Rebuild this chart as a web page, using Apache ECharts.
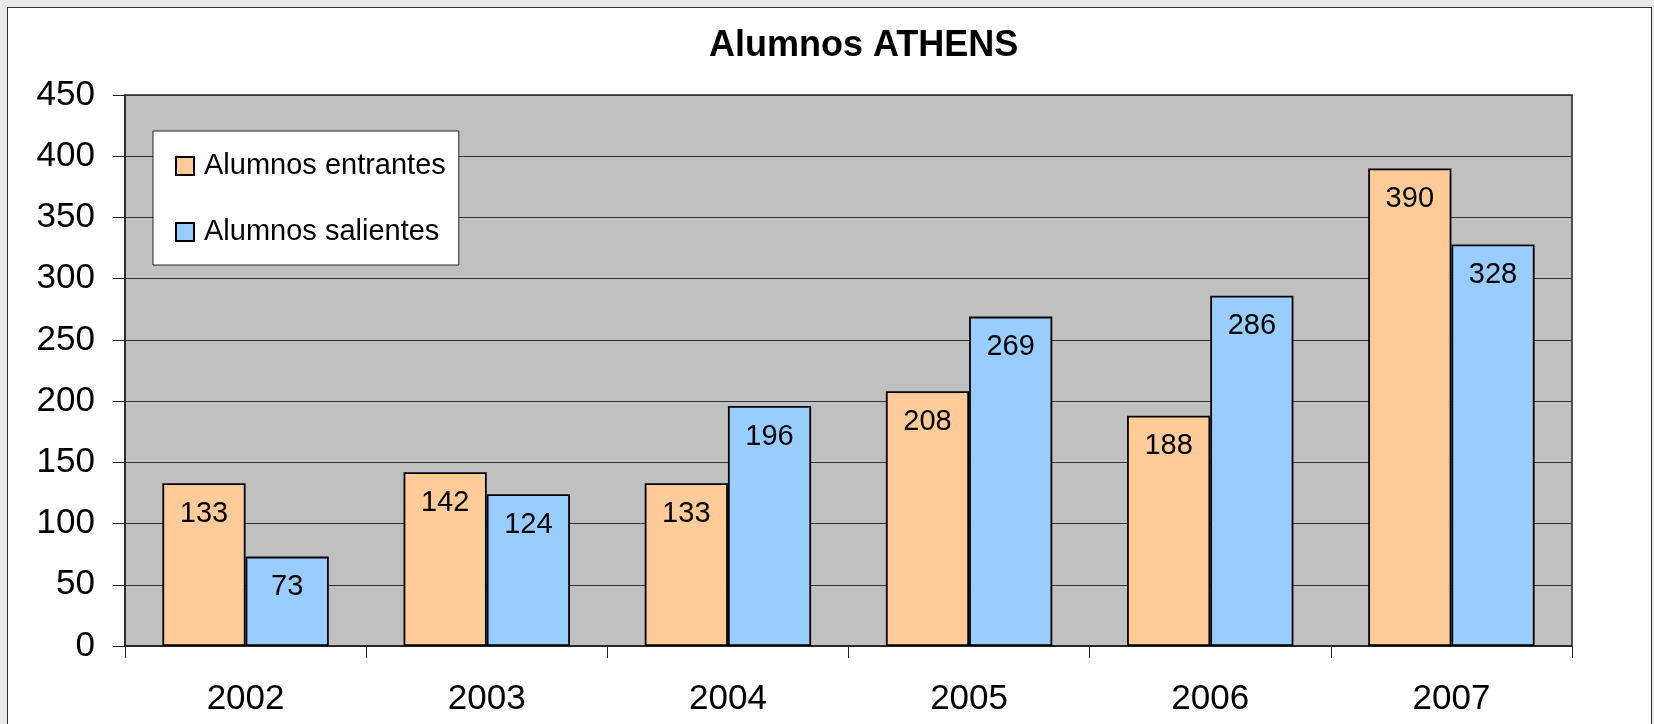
<!DOCTYPE html>
<html>
<head>
<meta charset="utf-8">
<script src="https://cdn.jsdelivr.net/npm/echarts@6/dist/echarts.min.js"></script>
<style>
  html, body { margin: 0; padding: 0; background: #e9e9e9; }
  #frame { position: absolute; left: 7px; top: 7px; width: 1645px; height: 740px; background: #fff; border: 1px solid #333; box-sizing: border-box; }
  #chart { position: absolute; left: 0; top: 0; width: 1654px; height: 724px; }
</style>
</head>
<body>
<div id="frame"></div>
<div id="chart"></div>
<script>
const years = ["2002", "2003", "2004", "2005", "2006", "2007"];
const entrantes = [133, 142, 133, 208, 188, 390];
const salientes = [73, 124, 196, 269, 286, 328];
const seriesNames = ["Alumnos entrantes", "Alumnos salientes"];
const titleText = "Alumnos ATHENS";

const font = "Liberation Sans, Arial, sans-serif";
const chart = echarts.init(document.getElementById("chart"));

const barLabel = {
  show: true,
  position: "insideTop",
  distance: 16,
  color: "#000",
  fontFamily: font,
  fontSize: 29
};

const option = {
  animation: false,
  title: {
    text: titleText,
    left: 709,
    top: 28,
    padding: 0,
    textStyle: { fontFamily: font, fontSize: 36, fontWeight: "bold", color: "#000" }
  },
  legend: {
    orient: "vertical",
    left: 153,
    top: 131,
    padding: [20, 13, 18, 22],
    backgroundColor: "#fff",
    borderColor: "#222",
    borderWidth: 1,
    borderRadius: 0,
    itemWidth: 28,
    itemHeight: 18,
    itemGap: 36,
    icon: "path://M0,0H10V10H0Z",
    data: seriesNames,
    textStyle: { fontFamily: font, fontSize: 29, color: "#000", lineHeight: 30 }
  },
  grid: {
    left: 125,
    top: 95,
    right: 82,
    bottom: 78,
    show: true,
    backgroundColor: "#c0c0c0",
    borderColor: "#222",
    borderWidth: 1.5
  },
  xAxis: {
    type: "category",
    data: years,
    axisLine: { show: true, lineStyle: { color: "#222", width: 1.5 } },
    axisTick: { show: true, length: 12, inside: false, lineStyle: { color: "#222", width: 1 } },
    axisLabel: { margin: 36, color: "#000", fontFamily: font, fontSize: 35 }
  },
  yAxis: {
    type: "value",
    min: 0,
    max: 450,
    interval: 50,
    axisLine: { show: true, lineStyle: { color: "#222", width: 1.5 } },
    axisTick: { show: true, length: 12, lineStyle: { color: "#222", width: 1 } },
    splitLine: { show: true, lineStyle: { color: "#333", width: 1.2 } },
    axisLabel: { margin: 30, color: "#000", fontFamily: font, fontSize: 35 }
  },
  series: [
    {
      name: seriesNames[0],
      type: "bar",
      data: entrantes,
      barGap: "0%",
      barCategoryGap: "31%",
      itemStyle: { color: "#ffcc99", borderColor: "#000", borderWidth: 1.8 },
      label: barLabel
    },
    {
      name: seriesNames[1],
      type: "bar",
      data: salientes,
      itemStyle: { color: "#99ccff", borderColor: "#000", borderWidth: 1.8 },
      label: barLabel
    }
  ]
};

chart.setOption(option);
</script>
</body>
</html>
